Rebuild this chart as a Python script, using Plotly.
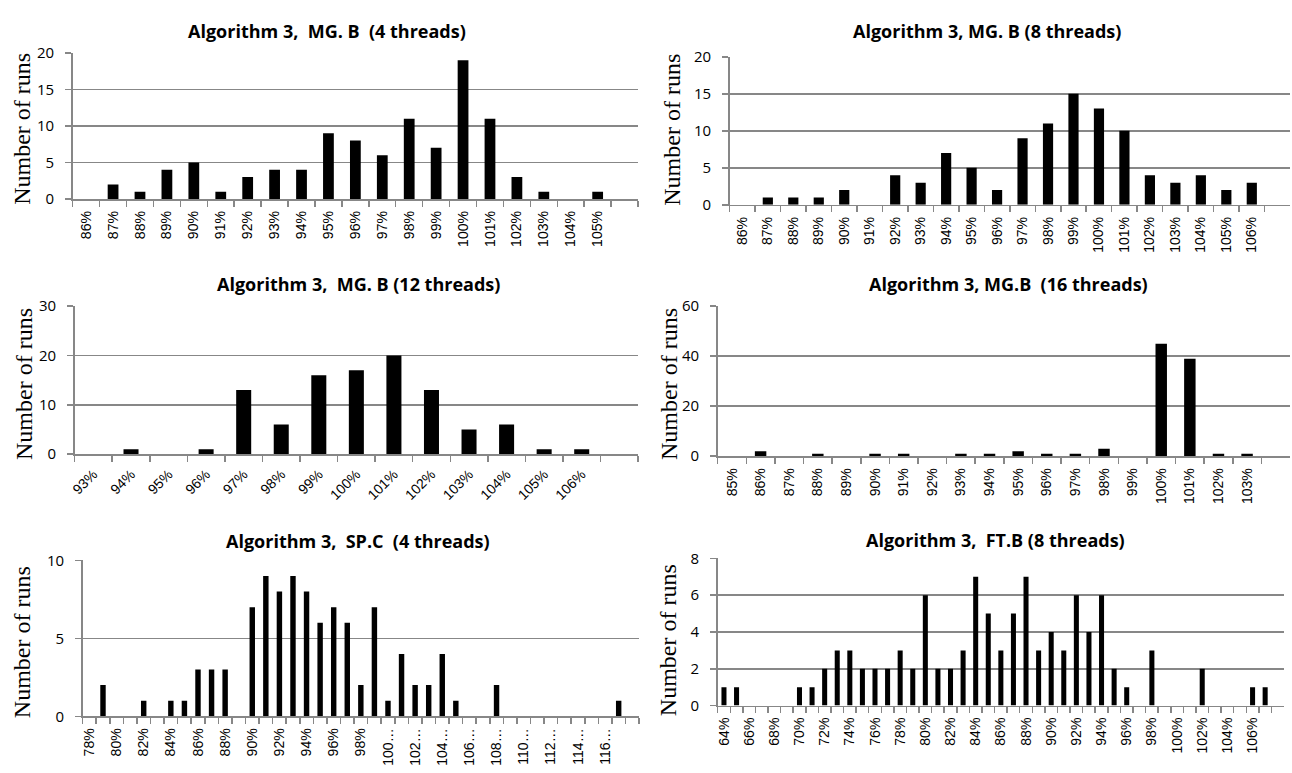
import plotly.graph_objects as go

W, H = 1292, 773

# ---------------- data ----------------
p1_cats = ["86%", "87%", "88%", "89%", "90%", "91%", "92%", "93%", "94%", "95%", "96%",
           "97%", "98%", "99%", "100%", "101%", "102%", "103%", "104%", "105%", " "]
p1_vals = [0, 2, 1, 4, 5, 1, 3, 4, 4, 9, 8, 6, 11, 7, 19, 11, 3, 1, 0, 1, 0]

p2_cats = ["86%", "87%", "88%", "89%", "90%", "91%", "92%", "93%", "94%", "95%", "96%",
           "97%", "98%", "99%", "100%", "101%", "102%", "103%", "104%", "105%", "106%", " "]
p2_vals = [0, 1, 1, 1, 2, 0, 4, 3, 7, 5, 2, 9, 11, 15, 13, 10, 4, 3, 4, 2, 3, 0]

p3_cats = ["93%", "94%", "95%", "96%", "97%", "98%", "99%", "100%", "101%", "102%",
           "103%", "104%", "105%", "106%", " "]
p3_vals = [0, 1, 0, 1, 13, 6, 16, 17, 20, 13, 5, 6, 1, 1, 0]

p4_cats = ["85%", "86%", "87%", "88%", "89%", "90%", "91%", "92%", "93%", "94%", "95%",
           "96%", "97%", "98%", "99%", "100%", "101%", "102%", "103%", " "]
p4_vals = [0, 2, 0, 1, 0, 1, 1, 0, 1, 1, 2, 1, 1, 3, 0, 45, 39, 1, 1, 0]

p5_cats = ["78%", "79%", "80%", "81%", "82%", "83%", "84%", "85%", "86%", "87%", "88%",
           "89%", "90%", "91%", "92%", "93%", "94%", "95%", "96%", "97%", "98%", "99%",
           "100%", "101%", "102%", "103%", "104%", "105%", "106%", "107%", "108%", "109%",
           "110%", "111%", "112%", "113%", "114%", "115%", "116%", "117%", " "]
p5_vals = [0, 2, 0, 0, 1, 0, 1, 1, 3, 3, 3, 0, 7, 9, 8, 9, 8, 6, 7, 6, 2, 7,
           1, 4, 2, 2, 4, 1, 0, 0, 2, 0, 0, 0, 0, 0, 0, 0, 0, 1, 0]
p5_ticktext = ["78%", "", "80%", "", "82%", "", "84%", "", "86%", "", "88%", "", "90%", "",
               "92%", "", "94%", "", "96%", "", "98%", "", "100…", "", "102…", "", "104…", "",
               "106…", "", "108…", "", "110…", "", "112…", "", "114…", "", "116…", "", ""]

p6_cats = ["64%", "65%", "66%", "67%", "68%", "69%", "70%", "71%", "72%", "73%", "74%",
           "75%", "76%", "77%", "78%", "79%", "80%", "81%", "82%", "83%", "84%", "85%",
           "86%", "87%", "88%", "89%", "90%", "91%", "92%", "93%", "94%", "95%", "96%",
           "97%", "98%", "99%", "100%", "101%", "102%", "103%", "104%", "105%", "106%",
           "107%", " "]
p6_vals = [1, 1, 0, 0, 0, 0, 1, 1, 2, 3, 3, 2, 2, 2, 3, 2, 6, 2, 2, 3, 7, 5,
           3, 5, 7, 3, 4, 3, 6, 4, 6, 2, 1, 0, 3, 0, 0, 0, 2, 0, 0, 0, 1, 1, 0]
p6_ticktext = [c if i % 2 == 0 else "" for i, c in enumerate(p6_cats)]

titles = ["Algorithm 3,\u00a0 MG. B\u00a0 (4 threads)",
          "Algorithm 3, MG. B (8 threads)",
          "Algorithm 3,\u00a0 MG. B (12 threads)",
          "Algorithm 3, MG.B\u00a0 (16 threads)",
          "Algorithm 3,\u00a0 SP.C\u00a0 (4 threads)",
          "Algorithm 3,\u00a0 FT.B (8 threads)"]
y_title = "Number of runs"

panels = [
    (p1_cats, p1_vals, p1_cats, 20, 5, -90),
    (p2_cats, p2_vals, p2_cats, 20, 5, -90),
    (p3_cats, p3_vals, p3_cats, 30, 10, -45),
    (p4_cats, p4_vals, p4_cats, 60, 20, -90),
    (p5_cats, p5_vals, p5_ticktext, 10, 5, -90),
    (p6_cats, p6_vals, p6_ticktext, 8, 2, -90),
]

# ---------------- layout (pixels) ----------------
boxes = [(68, 636, 43, 193), (728, 1291, 47, 199),
         (70, 636, 303, 455), (716, 1291, 303, 457),
         (78, 637, 564, 724), (716, 1285, 562, 713)]
title_pos = [(324, 21), (987, 21), (355, 280), (1008, 280), (355, 544), (995, 543)]
ytitle_pos = [(17, 121), (670, 122), (19, 383), (667, 383), (17, 648), (666, 646)]

GREY = "#878787"

fig = go.Figure()
layout = dict(width=W, height=H, margin=dict(l=0, r=0, t=0, b=0),
              paper_bgcolor="white", plot_bgcolor="white",
              showlegend=False, bargap=0.6, annotations=[])

for i, (cats, vals, ttext, ymax, dt, ang) in enumerate(panels):
    k = "" if i == 0 else str(i + 1)
    fig.add_trace(go.Bar(x=cats, y=vals, xaxis="x" + k, yaxis="y" + k,
                         marker=dict(color="black", line=dict(width=0))))
    x0, x1, yt, yb = boxes[i]
    layout["xaxis" + k] = dict(
        domain=[x0 / W, x1 / W], anchor="y" + k, type="category",
        categoryorder="array", categoryarray=cats,
        tickmode="array", tickvals=cats, ticktext=ttext,
        tickson="boundaries", ticks="outside", ticklen=6, tickwidth=1.5,
        tickcolor=GREY, showline=True, linecolor=GREY, linewidth=1.5,
        showgrid=False, tickangle=ang, range=[-0.5, len(cats) - 0.5],
        ticklabelstandoff=5,
        tickfont=dict(family="Liberation Sans", size=14, color="black"),
        fixedrange=True)
    layout["yaxis" + k] = dict(
        domain=[1 - yb / H, 1 - yt / H], anchor="x" + k,
        range=[0, ymax], tick0=0, dtick=dt, ticks="outside", ticklen=6,
        tickwidth=1.5, tickcolor=GREY, showline=True, linecolor=GREY,
        linewidth=1.5, showgrid=True, gridcolor=GREY, gridwidth=1.5,
        zeroline=False, ticklabelstandoff=8,
        tickfont=dict(family="Open Sans", size=15, color="black"), fixedrange=True)
    tx, ty = title_pos[i]
    layout["annotations"].append(dict(
        text="<b>" + titles[i] + "</b>", x=tx / W, y=1 - ty / H,
        xref="paper", yref="paper", showarrow=False, xanchor="center",
        yanchor="middle", font=dict(family="Open Sans", size=18, color="black")))
    ax_, ay_ = ytitle_pos[i]
    layout["annotations"].append(dict(
        text=y_title, x=ax_ / W, y=1 - ay_ / H, xref="paper", yref="paper",
        showarrow=False, textangle=-90, xanchor="center", yanchor="middle",
        font=dict(family="Liberation Serif", size=24, color="black")))

fig.update_layout(**layout)
fig.write_html("out.html", config={"displayModeBar": False, "staticPlot": True},
               post_script="document.body.style.margin='0';document.body.style.overflow='hidden';")
